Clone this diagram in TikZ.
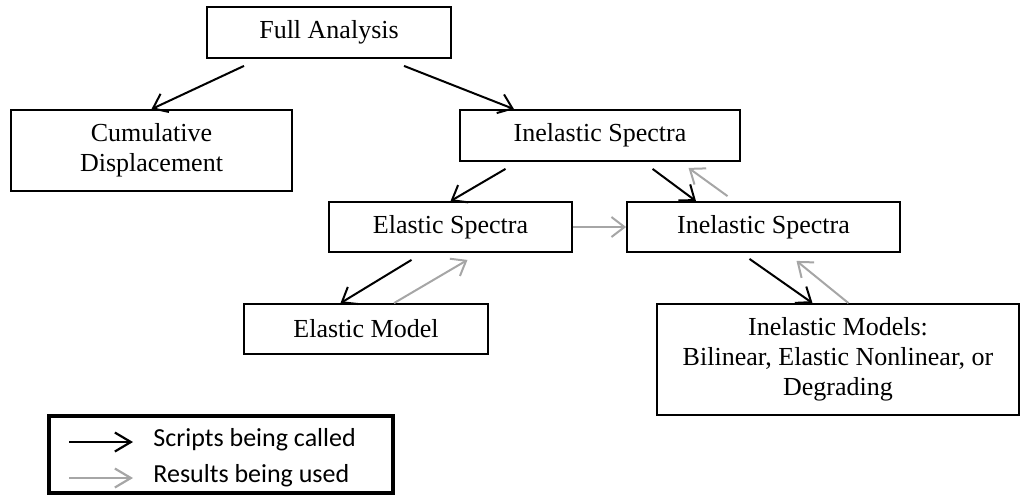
\documentclass[tikz,border=0pt]{standalone}
\usepackage{fontspec}
\setmainfont{Liberation Serif}
\newfontfamily\legendfont{Carlito}
\usetikzlibrary{arrows.meta,calc}
\definecolor{ResultGray}{HTML}{A6A6A6}
\tikzset{
  stage/.style={draw=black, line width=0.9pt, align=center, inner sep=0pt,
    font=\fontsize{13}{15}\selectfont},
  callwire/.style={-{Straight Barb[length=6.5pt,width=10pt]}, line width=1pt, draw=black},
  resultwire/.style={callwire, draw=ResultGray},
  legendwire/.style={-{Straight Barb[length=8pt,width=9.5pt]}, line width=1.1pt},
  legendtext/.style={font=\legendfont\fontsize{13}{15}\selectfont, anchor=west, inner sep=0pt}
}

\begin{document}
\begin{tikzpicture}[x=0.5pt, y=-0.5pt]
  \useasboundingbox (0,0) rectangle (1021,495);
  % analysis stages
  \node[stage, minimum width=122pt, minimum height=25.5pt] (full) at (329,32.5) {Full Analysis};
  \node[stage, minimum width=140.5pt, minimum height=40.5pt] (cumul) at (151.5,150.5) {Cumulative\\Displacement};
  \node[stage, minimum width=140pt, minimum height=25.5pt] (inelTop) at (600,135.5) {Inelastic Spectra};
  \node[stage, minimum width=121.5pt, minimum height=25pt] (elasSpec) at (450.5,227) {Elastic Spectra};
  \node[stage, minimum width=136.5pt, minimum height=25pt] (inelMid) at (763.5,227) {Inelastic Spectra};
  \node[stage, minimum width=122pt, minimum height=25pt] (elasModel) at (366,329) {Elastic Model};
  \node[stage, minimum width=181pt, minimum height=55.5pt] (inelModels) at (838,359.5)
    {Inelastic Models:\\Bilinear, Elastic Nonlinear, or\\Degrading};

  % scripts being called
  \draw[callwire] ($(full.south)+(-85,7)$) -- (cumul.north);
  \draw[callwire] ($(full.south)+(75,7)$) -- ($(inelTop.north)+(-86,0)$);
  \draw[callwire] ($(inelTop.south)+(-94.5,7)$) -- (elasSpec.north);
  \draw[callwire] ($(inelTop.south)+(52.6,7)$) -- ($(inelMid.north)+(-67.5,0)$);
  \draw[callwire] ($(elasSpec.south)+(-39,7)$) -- ($(elasModel.north)+(-25.5,0)$);
  \draw[callwire] ($(inelMid.south)+(-14,6)$) -- ($(inelModels.north)+(-25.5,0)$);

  % results being used
  \draw[resultwire] ($(inelMid.north)+(-36,-5)$) -- ($(inelTop.south)+(88.5,6)$);
  \draw[resultwire] (elasSpec.east) -- (inelMid.west);
  \draw[resultwire] ($(elasModel.north)+(28,0)$) -- ($(elasSpec.south)+(17,7)$);
  \draw[resultwire] ($(inelModels.north)+(10.5,0)$) -- ($(inelMid.south)+(33,8)$);

  % legend
  \node[draw, line width=2.4pt, minimum width=172pt, minimum height=38.5pt, inner sep=0pt] (legend) at (221,454.5) {};
  \coordinate (callstart) at (69,442);
  \coordinate (callend) at (133,442);
  \coordinate (resultstart) at (69,478);
  \coordinate (resultend) at (133,478);
  \node[legendtext] (calltext) at (153,440) {Scripts being called};
  \node[legendtext] (resulttext) at (153,476) {Results being used};
  \draw[legendwire, draw=black] (callstart) -- (callend);
  \draw[legendwire, draw=ResultGray] (resultstart) -- (resultend);
\end{tikzpicture}
\end{document}
